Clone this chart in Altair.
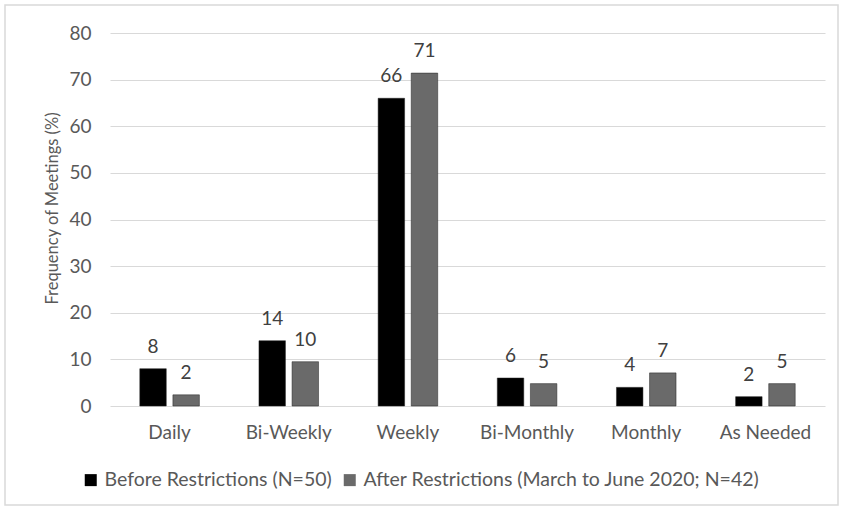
import altair as alt
import pandas as pd

categories = ["Daily", "Bi-Weekly", "Weekly", "Bi-Monthly", "Monthly", "As Needed"]
series = ["Before Restrictions (N=50)", "After Restrictions (March to June 2020; N=42)"]
before_vals = [8.0, 14.0, 66.0, 6.0, 4.0, 2.0]
after_vals = [2.4, 9.5, 71.4, 4.8, 7.1, 4.8]
before_labels = ["8", "14", "66", "6", "4", "2"]
after_labels = ["2", "10", "71", "5", "7", "5"]

rows = []
for i, c in enumerate(categories):
    rows.append({"cat": c, "series": series[0], "val": before_vals[i], "lab": before_labels[i]})
    rows.append({"cat": c, "series": series[1], "val": after_vals[i], "lab": after_labels[i]})
df = pd.DataFrame(rows)

FONT = "Lato"
FS = 19

x = alt.X("cat:N", sort=categories, title=None,
          scale=alt.Scale(paddingInner=0.5, paddingOuter=0.25),
          axis=alt.Axis(labelAngle=0, labelFontSize=FS, labelColor="#595959", labelFont=FONT,
                        ticks=False, domain=False, labelPadding=17, grid=False))
xo = alt.XOffset("series:N", sort=series, scale=alt.Scale(paddingInner=0.2))
y = alt.Y("val:Q", title="Frequency of Meetings (%)",
          scale=alt.Scale(domain=[0, 80], nice=False),
          axis=alt.Axis(values=[0, 10, 20, 30, 40, 50, 60, 70, 80], ticks=False, domain=False,
                        labelFontSize=FS, labelColor="#595959", labelFont=FONT, labelPadding=19,
                        gridColor="#d9d9d9", gridWidth=1,
                        titleFontSize=16.5, titleFont=FONT, titleColor="#595959",
                        titleFontWeight="normal", titlePadding=8, titleY=175))

color = alt.Color("series:N", sort=series,
                  scale=alt.Scale(domain=series, range=["#000000", "#6a6a6a"]),
                  legend=alt.Legend(title=None, orient="none", direction="horizontal",
                                    legendX=-29, legendY=437, symbolType="square",
                                    symbolSize=144, symbolStrokeWidth=0,
                                    labelFontSize=19.5, labelFont=FONT, labelColor="#595959",
                                    columnPadding=8, labelOffset=4, labelLimit=600))

bars = alt.Chart(df).mark_bar(stroke="#222222", strokeWidth=0.5).encode(
    x=x, xOffset=xo, y=y, color=color)

labels = alt.Chart(df).mark_text(dy=-22, baseline="middle", fontSize=FS, font=FONT,
                                 color="#404040").encode(
    x=alt.X("cat:N", sort=categories), xOffset=alt.XOffset("series:N", sort=series),
    y="val:Q", text="lab:N")

border = alt.Chart(pd.DataFrame({"a": [0]})).mark_rect(
    fill=None, stroke="#d9d9d9", strokeWidth=1.5, clip=False).encode(
    x=alt.value(-105), x2=alt.value(728), y=alt.value(-28), y2=alt.value(472))

chart = alt.layer(border, bars, labels).properties(
    width=715, height=373,
    autosize=alt.AutoSizeParams(type="none"),
    padding={"left": 110, "top": 33, "right": 19, "bottom": 107},
    background="white",
).configure_view(stroke=None)

chart.save("out.html", embed_options={"renderer": "svg", "actions": False})
